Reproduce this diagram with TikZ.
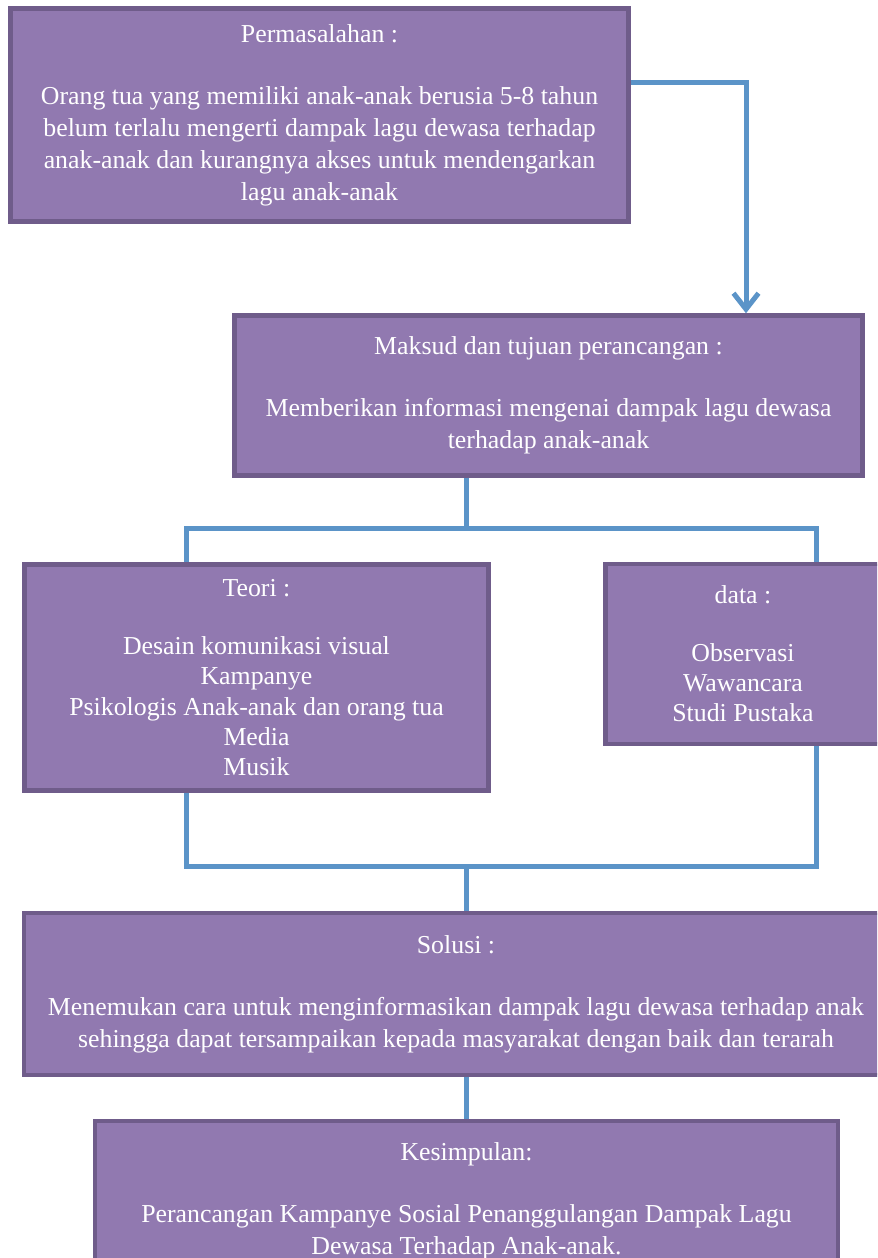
\documentclass[tikz,border=0pt]{standalone}
\usepackage{fontspec}
\setmainfont{Liberation Serif}
\usetikzlibrary{arrows.meta, positioning, calc}
\definecolor{boxfill}{RGB}{145, 121, 176}
\definecolor{boxedge}{RGB}{111, 92, 138}
\definecolor{linkblue}{RGB}{91, 148, 200}

\begin{document}
\begin{tikzpicture}[x=0.02cm, y=-0.02cm,
            box/.style={draw=boxedge, line width=0.09cm, fill=boxfill, text=white, inner sep=0pt, align=center, font=\fontsize{14.7}{18.2}\selectfont},
            tightbox/.style={box, font=\fontsize{14.7}{17.1}\selectfont},
            link/.style={draw=linkblue, line width=0.1cm}
        ]
            \useasboundingbox (0,0) rectangle (877,1258);
            \clip (0,0) rectangle (877,1258);

            \node[box, minimum width=12.36cm, minimum height=4.26cm] (perm) at (319.5,115) {Permasalahan :\\[17pt]Orang tua yang memiliki anak-anak berusia 5-8 tahun\\belum terlalu mengerti dampak lagu dewasa terhadap\\anak-anak dan kurangnya akses untuk mendengarkan\\lagu anak-anak};
            \node[box, minimum width=12.56cm, minimum height=3.2cm] (maksud) at (548.5,395.5) {Maksud dan tujuan perancangan :\\[17pt]Memberikan informasi mengenai dampak lagu dewasa\\terhadap anak-anak};
            \node[tightbox, minimum width=9.28cm, minimum height=4.52cm] (teori) at (256.5,677.5) {Teori :\\[16pt]Desain komunikasi visual\\Kampanye\\Psikologis Anak-anak dan orang tua\\Media\\Musik};
            \node[tightbox, minimum width=5.5cm, minimum height=3.6cm] (data) at (743,654) {data :\\[16pt]Observasi\\Wawancara\\Studi Pustaka};
            \node[box, minimum width=17.28cm, minimum height=3.24cm] (solusi) at (456,994) {Solusi :\\[17pt]Menemukan cara untuk menginformasikan dampak lagu dewasa terhadap anak\\sehingga dapat tersampaikan kepada masyarakat dengan baik dan terarah};
            \node[box, minimum width=14.86cm, minimum height=3.2cm] (kesimpulan) at (466.5,1201) {Kesimpulan:\\[17pt]Perancangan Kampanye Sosial Penanggulangan Dampak Lagu\\Dewasa Terhadap Anak-anak.};

            \coordinate (turn) at (746,82);
            \coordinate (split) at (466,528);
            \coordinate (split-l) at (186,528);
            \coordinate (split-r) at (816,528);
            \coordinate (merge) at (466,866);
            \coordinate (merge-l) at (186,866);
            \coordinate (merge-r) at (816,866);

            \draw[link, -{Straight Barb[length=0.32cm, width=0.5cm]}] (perm.east |- turn) -- (turn) -- (maksud.north -| turn);
            \draw[link] (maksud.south -| split) -- (split);
            \draw[link] (teori.north -| split-l) -- (split-l) -- (split-r) -- (data.north -| split-r);
            \draw[link] (teori.south -| merge-l) -- (merge-l) -- (merge-r) -- (data.south -| merge-r);
            \draw[link] (merge) -- (solusi.north -| merge);
            \draw[link] (solusi.south -| kesimpulan.north) -- (kesimpulan.north);
        \end{tikzpicture}
\end{document}
